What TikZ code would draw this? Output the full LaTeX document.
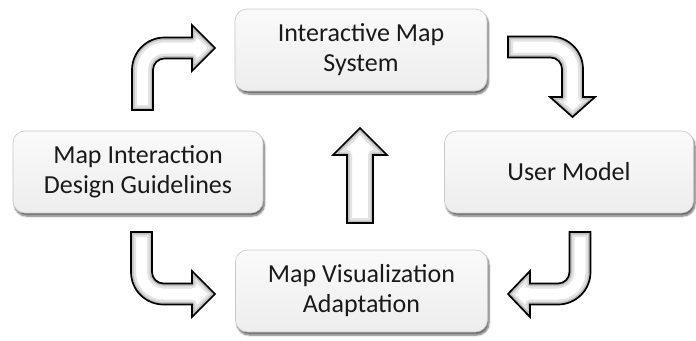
\documentclass[tikz,border=0pt]{standalone}
\usepackage{fontspec}
\setmainfont{Carlito}
\usetikzlibrary{shadows.blur}

\definecolor{boxtext}{HTML}{1A1A1A}
\definecolor{boxedge}{HTML}{C8C8C8}
\definecolor{boxtop}{HTML}{FAFAFA}
\definecolor{boxbottom}{HTML}{EDEDED}

% block arrow: white body, grey inner glow, black outline
\newcommand\blockarrow[1]{%
  \fill[white] #1;
  \begin{scope}
    \clip #1;
    \draw[line width=10pt, gray!22, line join=round] #1;
    \draw[line width=5pt, gray!50, line join=round] #1;
  \end{scope}
  \draw[line width=1.7pt, black, line join=miter] #1;
}

\tikzset{
  stage/.style={
    draw=boxedge, line width=0.6pt, rounded corners=12pt,
    top color=boxtop, bottom color=boxbottom,
    minimum width=#1, minimum height=82pt,
    align=center, text=boxtext,
    font=\fontsize{26}{30}\selectfont,
    blur shadow={shadow xshift=1.5pt, shadow yshift=-3pt,
      shadow blur steps=6, shadow blur extra rounding=2pt, shadow opacity=60}
  }
}

\begin{document}
\begin{tikzpicture}[x=1pt, y=-1pt]
  \useasboundingbox (0,0) rectangle (696,340);

  % stages of the cycle
  \node[stage=252pt] (ims)  at (361,50)  {Interactive Map\\System};
  \node[stage=249pt] (um)   at (569,172) {User Model};
  \node[stage=252pt] (mva)  at (361.5,291) {Map Visualization\\Adaptation};
  \node[stage=250pt] (midg) at (138,172) {Map Interaction\\Design Guidelines};

  % guidelines -> interactive map system (up, then right)
  \blockarrow{(153,110) -- (132,110) -- (132,70)
    arc[start angle=180, end angle=270, radius=32.5]
    -- (192,37.5) -- (192,25) -- (215,48) -- (192,71) -- (192,58.5) -- (164.5,58.5)
    arc[start angle=270, end angle=180, radius=11.5] -- cycle}

  % interactive map system -> user model (right, then down)
  \blockarrow{(508,36.5) -- (550.5,36.5)
    arc[start angle=270, end angle=360, radius=32.5]
    -- (583,97) -- (595,97) -- (572.5,117) -- (550,97) -- (562,97) -- (562,69)
    arc[start angle=0, end angle=-90, radius=11.5]
    -- (508,57.5) -- cycle}

  % user model -> adaptation (down, then left)
  \blockarrow{(590.5,232) -- (590.5,272)
    arc[start angle=0, end angle=90, radius=32.5]
    -- (530,304.5) -- (530,317) -- (508,294) -- (530,271) -- (530,283.5) -- (558,283.5)
    arc[start angle=90, end angle=0, radius=11.5]
    -- (569.5,232) -- cycle}

  % guidelines -> adaptation (down, then right)
  \blockarrow{(131,232) -- (131,272)
    arc[start angle=180, end angle=90, radius=32.5]
    -- (192,304.5) -- (192,317) -- (215,294) -- (192,271) -- (192,283.5) -- (163.5,283.5)
    arc[start angle=90, end angle=180, radius=11.5]
    -- (152,232) -- cycle}

  % adaptation -> interactive map system (straight up)
  \blockarrow{(347,223) -- (347,155) -- (333,155) -- (360,128) -- (387,155)
    -- (373,155) -- (373,223) -- cycle}
\end{tikzpicture}
\end{document}
